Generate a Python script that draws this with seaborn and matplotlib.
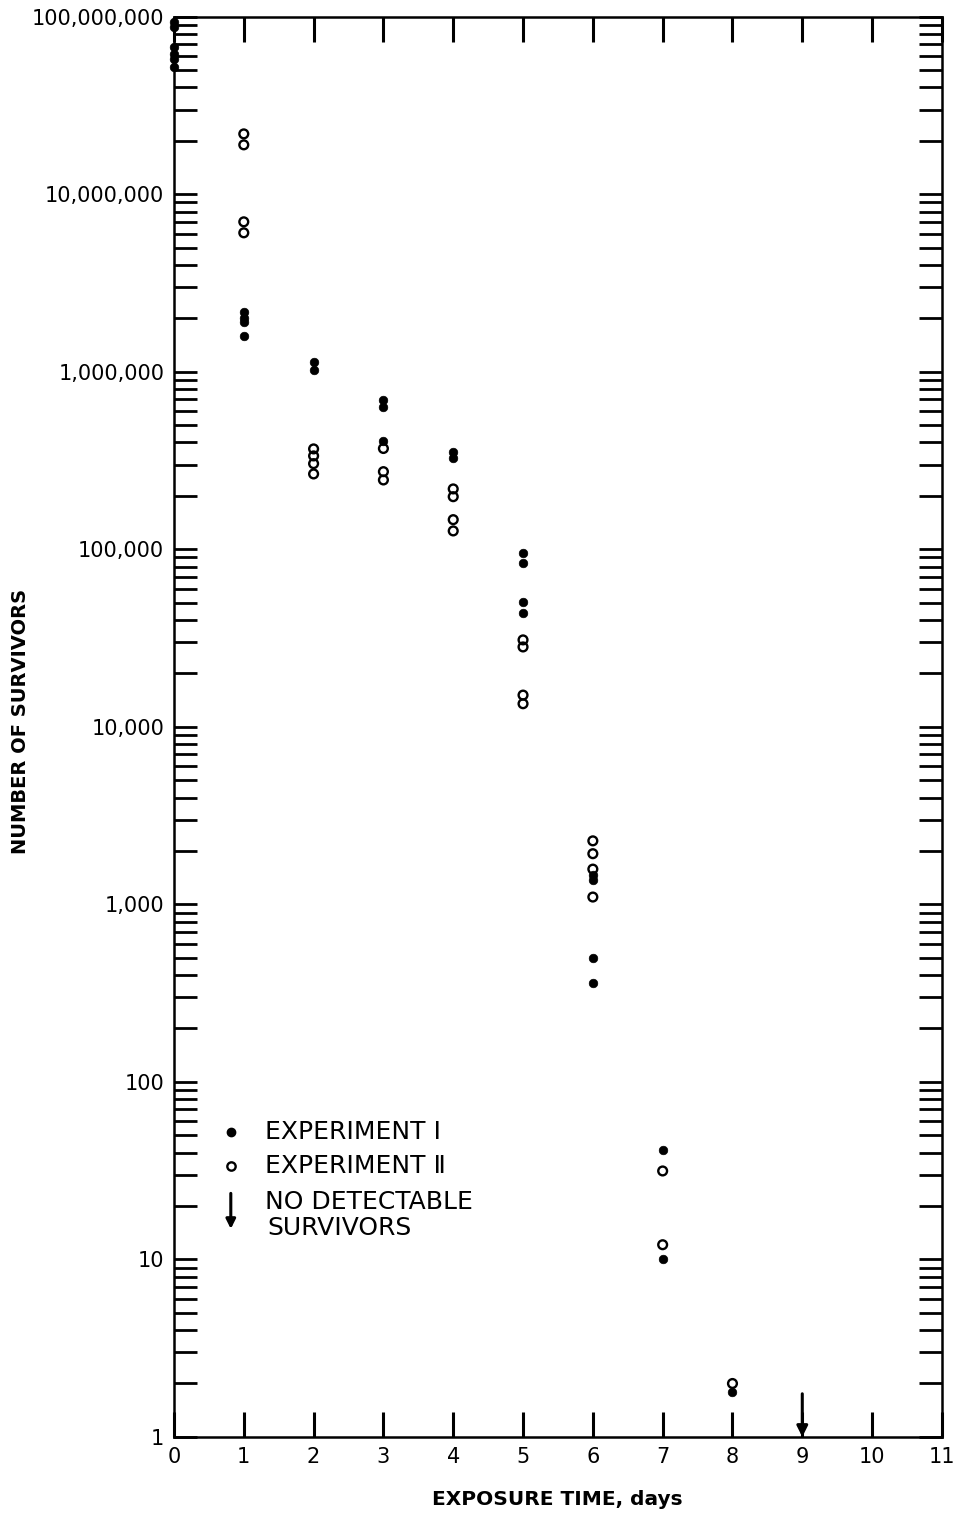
import matplotlib
matplotlib.use("Agg")
import numpy as np
import pandas as pd
import matplotlib.pyplot as plt
import matplotlib.ticker as mticker
import seaborn as sns

# Experiment I (filled dots)
exp1_days = [0, 0, 0, 0, 0, 0,
             1, 1, 1, 1,
             2, 2,
             3, 3, 3,
             4, 4,
             5, 5, 5, 5,
             6, 6, 6, 6,
             7, 7,
             8]
exp1_counts = [9.4e7, 8.8e7, 6.8e7, 6.2e7, 5.8e7, 5.2e7,
               2.18e6, 2.0e6, 1.9e6, 1.6e6,
               1.14e6, 1.03e6,
               6.95e5, 6.35e5, 4.08e5,
               3.54e5, 3.27e5,
               9.5e4, 8.4e4, 5.06e4, 4.38e4,
               1.47e3, 1.37e3, 500, 361,
               41.4, 10.1,
               1.8]

# Experiment II (open circles)
exp2_days = [1, 1, 1, 1,
             2, 2, 2, 2,
             3, 3, 3,
             4, 4, 4, 4,
             5, 5, 5, 5,
             6, 6, 6, 6,
             7, 7,
             8]
exp2_counts = [2.19e7, 1.9e7, 7.0e6, 6.07e6,
               3.68e5, 3.36e5, 3.04e5, 2.66e5,
               3.7e5, 2.74e5, 2.46e5,
               2.19e5, 1.98e5, 1.47e5, 1.27e5,
               3.09e4, 2.82e4, 1.51e4, 1.35e4,
               2.28e3, 1.93e3, 1.58e3, 1.1e3,
               31.5, 12.1,
               2.0]

# day with no detectable survivors
none_day = 9
arrow_from = 1.75

x_ticks = list(range(0, 12))
y_ticks = [1, 10, 100, 1000, 10000, 100000, 1000000, 10000000, 100000000]

df1 = pd.DataFrame({"day": exp1_days, "count": exp1_counts})
df2 = pd.DataFrame({"day": exp2_days, "count": exp2_counts})

sns.set_theme(style="white")
plt.rcParams["font.family"] = ["DejaVu Sans"]
plt.rcParams["text.color"] = "black"
plt.rcParams["axes.labelcolor"] = "black"

fig = plt.figure(figsize=(9.58, 15.14), dpi=100)
ax = fig.add_axes([0.1816, 0.0509, 0.8016, 0.938])

sns.scatterplot(data=df2, x="day", y="count", ax=ax, marker="o", s=40,
                facecolors="none", edgecolor="black", linewidth=1.7,
                clip_on=False, zorder=3)
sns.scatterplot(data=df1, x="day", y="count", ax=ax, marker="o", s=38,
                color="black", edgecolor="black", linewidth=0.5,
                clip_on=False, zorder=4)

ax.annotate("", xy=(none_day, 1.0), xytext=(none_day, arrow_from),
            arrowprops=dict(arrowstyle="-|>", lw=2.2, color="black",
                            mutation_scale=16, shrinkA=0, shrinkB=0),
            zorder=5)

ax.set_yscale("log")
ax.set_xlim(0, 11)
ax.set_ylim(1, 1e8)

ax.set_xticks(x_ticks)
ax.xaxis.set_minor_locator(mticker.NullLocator())
ax.set_yticks(y_ticks)
ax.set_yticklabels([f"{v:,}" for v in y_ticks])
minor = [m * v for v in y_ticks[:-1] for m in range(2, 10)]
ax.set_yticks(minor, minor=True)
ax.yaxis.set_minor_formatter(mticker.NullFormatter())

for s in ax.spines.values():
    s.set_visible(True)
    s.set_color("black")
    s.set_linewidth(1.8)

ax.tick_params(axis="x", which="major", direction="in", top=True, bottom=True,
               length=18, width=2.2, pad=7, labelsize=15, colors="black")
ax.tick_params(axis="y", which="both", direction="in", left=True, right=True,
               length=16.5, width=2.0, pad=7, labelsize=15, colors="black")

ax.set_xlabel("EXPOSURE TIME, days", fontsize=14.5, fontweight="bold", color="black")
ax.set_ylabel("NUMBER OF SURVIVORS", fontsize=14, fontweight="bold", color="black")
ax.xaxis.set_label_coords(0.499, -0.044)
ax.xaxis.label.set_va("center")
ax.yaxis.set_label_coords(-0.2, 0.504)
ax.yaxis.label.set_va("center")

ax.grid(False)

# legend drawn by hand
tr = ax.transAxes
ax.plot([0.074], [0.2148], marker="o", ms=6, color="black", transform=tr, clip_on=False)
ax.plot([0.074], [0.1908], marker="o", ms=6, mfc="none", mec="black", mew=1.7,
        transform=tr, clip_on=False)
ax.annotate("", xy=(0.074, 0.1465), xytext=(0.074, 0.1715), xycoords=tr,
            arrowprops=dict(arrowstyle="-|>", lw=2.2, color="black",
                            mutation_scale=14, shrinkA=0, shrinkB=0))
leg_kw = dict(transform=tr, fontsize=18, va="center", ha="left", color="black")
ax.text(0.119, 0.2148, "EXPERIMENT Ⅰ", **leg_kw)
ax.text(0.119, 0.1908, "EXPERIMENT Ⅱ", **leg_kw)
ax.text(0.119, 0.1655, "NO DETECTABLE", **leg_kw)
ax.text(0.122, 0.1472, "SURVIVORS", **leg_kw)

fig.savefig("out.png", dpi=100, facecolor="white")
